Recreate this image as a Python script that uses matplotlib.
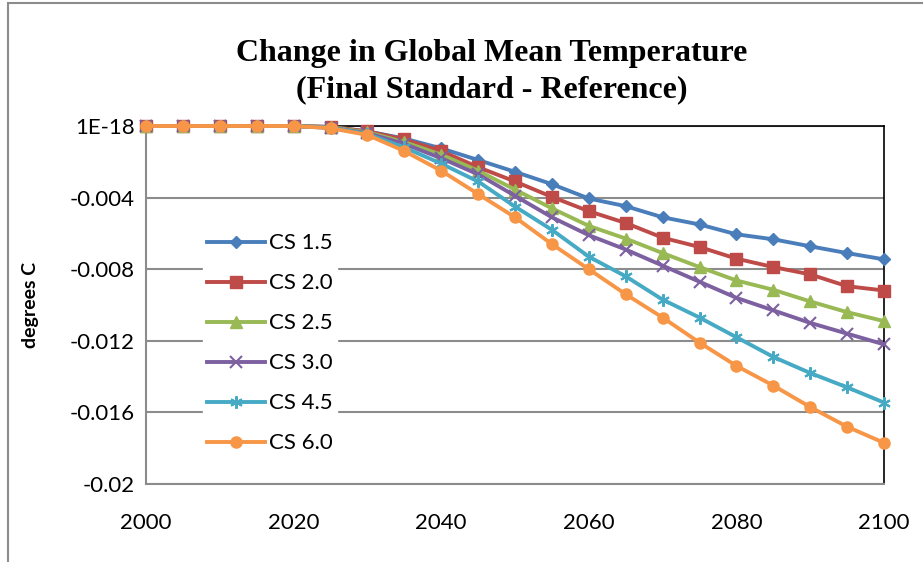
import matplotlib
matplotlib.use("Agg")
import matplotlib.pyplot as plt
from matplotlib.patches import Rectangle

years = list(range(2000, 2101, 5))

cs_1_5 = [0, 0, 0, 0, 0, -0.00005, -0.0003, -0.0007, -0.00125, -0.0019, -0.00256,
          -0.00325, -0.00405, -0.00448, -0.0051, -0.0055, -0.00605, -0.00633,
          -0.00672, -0.0071, -0.00745]
cs_2_0 = [0, 0, 0, 0, 0, -0.00005, -0.0003, -0.00075, -0.0014, -0.0023, -0.0031,
          -0.00396, -0.00476, -0.00542, -0.00624, -0.00676, -0.00741, -0.00788,
          -0.00829, -0.00895, -0.00919]
cs_2_5 = [0, 0, 0, 0, 0, -0.00007, -0.00035, -0.0009, -0.0016, -0.0025, -0.00355,
          -0.0046, -0.00558, -0.00629, -0.0071, -0.00788, -0.00863, -0.00915,
          -0.0098, -0.0104, -0.0109]
cs_3_0 = [0, 0, 0, 0, 0, -0.0001, -0.0004, -0.001, -0.0018, -0.0027, -0.0039,
          -0.0051, -0.0061, -0.0069, -0.0078, -0.0087, -0.0096, -0.0103,
          -0.011, -0.0116, -0.0122]
cs_4_5 = [0, 0, 0, 0, 0, -0.0001, -0.00045, -0.0012, -0.0021, -0.0031, -0.0045,
          -0.0058, -0.0073, -0.0084, -0.0097, -0.0107, -0.0118, -0.0129,
          -0.0138, -0.0146, -0.01545]
cs_6_0 = [0, 0, 0, 0, 0, -0.00012, -0.0005, -0.0014, -0.0025, -0.0038, -0.0051,
          -0.0066, -0.008, -0.0094, -0.0107, -0.0121, -0.0134, -0.0145,
          -0.0157, -0.0168, -0.0177]

series_names = ["CS 1.5", "CS 2.0", "CS 2.5", "CS 3.0", "CS 4.5", "CS 6.0"]
series_values = [cs_1_5, cs_2_0, cs_2_5, cs_3_0, cs_4_5, cs_6_0]

x_ticks = [2000, 2020, 2040, 2060, 2080, 2100]
y_ticks = [0, -0.004, -0.008, -0.012, -0.016, -0.02]
y_tick_labels = ["1E-18", "-0.004", "-0.008", "-0.012", "-0.016", "-0.02"]

colors = ["#4A7EBB", "#BE4B48", "#98B954", "#7D60A0", "#46AAC5", "#F79646"]
markers = ["D", "s", "^", "x", (6, 2, 0), "o"]
msizes = [6, 8, 8, 8, 9, 8]

sans = ["Lato", "DejaVu Sans"]
serif = ["Liberation Serif", "DejaVu Serif"]

fig = plt.figure(figsize=(9.23, 5.62), dpi=100)
fig.patches.append(Rectangle((8 / 923, -0.05), 1.0, 1 - 3 / 562 + 0.05,
                             transform=fig.transFigure, fill=False,
                             edgecolor="#8C8C8C", linewidth=1.5))

ax = fig.add_axes([146 / 923, 1 - 484 / 562, (884 - 146) / 923, (484 - 126) / 562])

for name, vals, c, m, ms in zip(series_names, series_values, colors, markers, msizes):
    ax.plot(years, vals, color=c, lw=2.8, marker=m, markersize=ms,
            markeredgewidth=1.5 if m == "x" or isinstance(m, tuple) else 1,
            markeredgecolor=c, label=name, clip_on=False, zorder=3)

ax.set_xlim(2000, 2100)
ax.set_ylim(-0.02, 0)
ax.set_xticks(x_ticks)
ax.set_yticks(y_ticks)
ax.set_yticklabels(y_tick_labels)
ax.grid(axis="y", color="#8C8C8C", lw=1.5)
ax.set_axisbelow(True)

for s in ("top", "right"):
    ax.spines[s].set_color("black")
    ax.spines[s].set_linewidth(1.2)
for s in ("left", "bottom"):
    ax.spines[s].set_color("#8C8C8C")
    ax.spines[s].set_linewidth(1.5)

ax.tick_params(axis="both", length=0)
ax.tick_params(axis="x", pad=21)
ax.tick_params(axis="y", pad=8)
for lab in ax.get_xticklabels() + ax.get_yticklabels():
    lab.set_fontfamily(sans)
    lab.set_fontsize(16)

ax.set_ylabel("degrees C", fontsize=14, fontweight="bold", family=sans, labelpad=22)

fig.text(0.533, 1 - 53 / 562, "Change in Global Mean Temperature",
         ha="center", va="center", fontsize=23, fontweight="bold", family=serif)
fig.text(0.533, 1 - 90 / 562, "(Final Standard - Reference)",
         ha="center", va="center", fontsize=23, fontweight="bold", family=serif)

leg = ax.legend(loc="upper left",
                bbox_to_anchor=((203 - 146) / 738, 1 - (229 - 126) / 358),
                frameon=True, framealpha=1, edgecolor="white", fancybox=False,
                prop={"family": sans, "size": 16},
                handlelength=2.6, handletextpad=0.15, labelspacing=0.9,
                borderpad=0.2, borderaxespad=0)

fig.savefig("out.png", dpi=100)
